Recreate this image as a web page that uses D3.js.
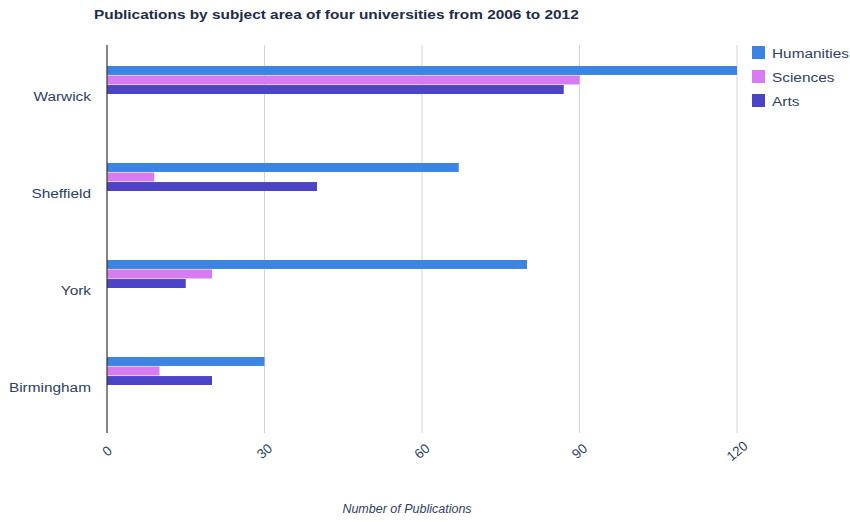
<!DOCTYPE html>
<html>
<head>
<meta charset="utf-8">
<script src="https://cdn.jsdelivr.net/npm/d3@7"></script>
<style>
  html, body { margin: 0; padding: 0; background: #fff; }
  svg { display: block; font-family: "Liberation Sans", Arial, sans-serif; }
</style>
</head>
<body>
<svg id="chart" width="850" height="522"></svg>
<script>
const universities = ["Warwick", "Sheffield", "York", "Birmingham"];
const seriesNames = ["Humanities", "Sciences", "Arts"];
const humanities = [120, 67, 80, 30];
const sciences = [90, 9, 20, 10];
const arts = [87, 40, 15, 20];
const xTicks = [0, 30, 60, 90, 120];
const colors = ["#3c84e4", "#d67cf0", "#4b44c6"];
const chartTitle = "Publications by subject area of four universities from 2006 to 2012";
const xAxisTitle = "Number of Publications";

const seriesValues = [humanities, sciences, arts];

const svg = d3.select("#chart");
const plot = { left: 107, right: 737, top: 45, bottom: 433 };
const SX = 1.14; // horizontal stretch of text seen in the reference

const x = d3.scaleLinear().domain([0, 120]).range([plot.left, plot.right]);
const y = d3.scaleBand().domain(universities).range([plot.top, plot.bottom]).paddingInner(0);
const inner = d3.scaleBand().domain(seriesNames).range([21, 49]).paddingInner(0.06);

// Title
svg.append("text")
  .attr("transform", `translate(94,19) scale(${SX},1)`)
  .attr("font-size", 13.5).attr("font-weight", "bold")
  .attr("fill", "#1d2c4c")
  .text(chartTitle);

// Gridlines
svg.append("g").selectAll("line")
  .data(xTicks.filter(d => d !== 0))
  .join("line")
  .attr("x1", d => x(d)).attr("x2", d => x(d))
  .attr("y1", plot.top).attr("y2", plot.bottom)
  .attr("stroke", "#d4d4d4").attr("stroke-width", 1);

// Bars
const groups = svg.append("g").selectAll("g")
  .data(universities)
  .join("g")
  .attr("transform", d => `translate(0,${y(d)})`);

groups.selectAll("rect")
  .data((u, i) => seriesNames.map((s, j) => ({ s, v: seriesValues[j][i], j })))
  .join("rect")
  .attr("x", x(0))
  .attr("y", d => inner(d.s))
  .attr("width", d => x(d.v) - x(0))
  .attr("height", inner.bandwidth())
  .attr("fill", d => colors[d.j]);

// Axis line
svg.append("line")
  .attr("x1", x(0)).attr("x2", x(0))
  .attr("y1", plot.top).attr("y2", plot.bottom)
  .attr("stroke", "#333").attr("stroke-width", 1.2);

// Y labels
svg.append("g").selectAll("text")
  .data(universities)
  .join("text")
  .attr("transform", d => `translate(91,${y(d) + y.bandwidth() / 2 + 3}) scale(${SX},1)`)
  .attr("dy", "0.35em")
  .attr("text-anchor", "end")
  .attr("font-size", 13.5)
  .attr("fill", "#2e4166")
  .text(d => d);

// X tick labels (rotated)
svg.append("g").selectAll("text")
  .data(xTicks)
  .join("text")
  .attr("transform", d => `translate(${x(d)},451) rotate(-40)`)
  .attr("dy", "0.35em")
  .attr("text-anchor", "middle")
  .attr("font-size", 13.5)
  .attr("fill", "#2e4166")
  .text(d => d);

// X axis title
svg.append("text")
  .attr("transform", `translate(407,513)`)
  .attr("text-anchor", "middle")
  .attr("font-size", 12.5).attr("font-style", "italic")
  .attr("fill", "#2e4166")
  .text(xAxisTitle);

// Legend
const legend = svg.append("g").selectAll("g")
  .data(seriesNames)
  .join("g")
  .attr("transform", (d, i) => `translate(752,${46 + i * 24})`);
legend.append("rect")
  .attr("width", 13).attr("height", 13)
  .attr("fill", (d, i) => colors[i]);
legend.append("text")
  .attr("transform", `translate(20,7) scale(${SX},1)`)
  .attr("dy", "0.35em")
  .attr("font-size", 13.5)
  .attr("fill", "#2e4166")
  .text(d => d);
</script>
</body>
</html>
